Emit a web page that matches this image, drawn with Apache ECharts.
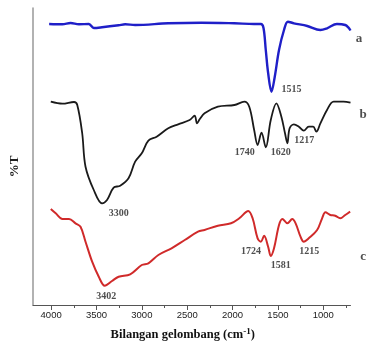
<!DOCTYPE html>
<html><head><meta charset="utf-8">
<script src="https://cdn.jsdelivr.net/npm/echarts@6/dist/echarts.min.js"></script>
<style>html,body{margin:0;padding:0;background:#fff}#c{width:367px;height:347px}</style>
</head><body><div id="c"></div>
<script>
// Curve a (blue)
const waveA = [4022,3876,3786,3694,3584,3530,3439,3256,3184,3074,2709,2345,1980,1765,1688,1659,1634,1608,1571,1535,1488,1433,1390,1324,1177,1032,959,849,758,722,700];
const tA    = [281,280.7,282,280.7,281,277,277.7,279.7,280.7,280,281.7,282.3,281.7,281,281,277,255,232,213.3,228.3,255,275,283.3,281.7,279,275,276.7,281,280,277.3,274.5];
// Curve b (black)
const waveB = [4004,3876,3748,3712,3658,3621,3530,3439,3384,3311,3239,3147,3074,3001,2928,2837,2709,2600,2473,2418,2392,2363,2309,2162,1980,1871,1816,1762,1724,1681,1634,1579,1517,1462,1422,1396,1371,1324,1269,1215,1160,1112,1076,1032,959,886,777,700];
const tB    = [203.3,201.3,203,200,172,138.3,115,101.7,105,117.3,119.3,126.7,143.3,151.7,164.3,168.3,176.7,180.7,185,189.3,181.7,185.7,191.7,198.3,200,203.3,198.3,175,160,172.3,157.7,185,201.7,188.3,171.7,161.7,176.7,180.7,178.3,174.3,178.3,178.3,173.3,181.7,195,203.3,203.3,202.3];
// Curve c (red)
const waveC = [4004,3950,3876,3803,3731,3676,3621,3548,3475,3409,3329,3256,3129,3001,2928,2818,2673,2527,2381,2309,2162,2017,1926,1827,1779,1724,1688,1652,1608,1579,1543,1488,1451,1396,1342,1305,1251,1215,1160,1068,1013,977,923,868,813,758,704];
const tC    = [96,91.7,86,86,81.7,78.3,63.3,43.3,28.3,19.3,24,28.3,30.7,40,41.7,50,56.7,65,73.3,75,79.3,81.7,86.7,94,86.7,66.7,63.3,69.3,58.3,49,56.7,80,86,81.7,86,81.7,68.3,63.3,66.7,75,86.7,92.7,90,89.3,86.7,90,93.3];
// Annotations
const labelText = ['1515','a','3300','1740','1620','1217','b','1724','1581','1215','c','3402'];
const labelWave = [1351,605,3256,1866,1470,1210,562,1798,1470,1154,562,3393];
const labelT    = [215.7,266.7,91.7,152.7,152.7,165,190,53.3,40,53.3,48.3,9];
// Axis ticks
const majorTicks = [1000,1500,2000,2500,3000,3500,4000];
const minorTicks = [750,1250,1750,2250,2750,3250,3750];

function pairs(w, t){ return w.map((x,i)=>[x,t[i]]); }
const labelData = labelText.map((s,i)=>[labelWave[i], labelT[i], s]);

const chart = echarts.init(document.getElementById('c'));
const serif = '"Liberation Serif","DejaVu Serif",serif';
chart.setOption({
  animation:false,
  backgroundColor:'#fff',
  grid:{left:31,right:16.5,top:8,bottom:42},
  xAxis:[{
    type:'value', min:700, max:4200, inverse:true, position:'bottom',
    axisLine:{show:true, lineStyle:{color:'#555', width:1}},
    axisTick:{show:true, inside:false, length:5, customValues:majorTicks, lineStyle:{color:'#555'}},
    axisLabel:{show:true, customValues:majorTicks, formatter:v=>String(v), color:'#222', fontSize:9.5, margin:5, fontFamily:'"Liberation Sans",Arial,sans-serif'},
    splitLine:{show:false},
    name:'{t|Bilangan gelombang (cm}{s|-1}{t|)}', nameLocation:'middle', nameGap:22,
    nameTextStyle:{padding:[0,18,0,0], rich:{t:{fontFamily:serif,fontWeight:'bold',fontSize:12.5,color:'#111'}, s:{fontFamily:serif,fontWeight:'bold',fontSize:9,color:'#111',verticalAlign:'bottom',padding:[0,0,6,0]}}}
  },{
    type:'value', min:700, max:4200, inverse:true, position:'bottom',
    axisLine:{show:false},
    axisTick:{show:true, inside:false, length:3, customValues:minorTicks, lineStyle:{color:'#555'}},
    axisLabel:{show:false}, splitLine:{show:false}
  }],
  yAxis:{
    type:'value', min:0, max:297,
    axisLine:{show:true, lineStyle:{color:'#999', width:1.5}},
    axisTick:{show:false}, axisLabel:{show:false}, splitLine:{show:false},
    name:'%T', nameLocation:'middle', nameGap:12, nameRotate:90,
    nameTextStyle:{fontFamily:serif, fontWeight:'bold', fontSize:13, color:'#222', padding:[0,20,0,0]}
  },
  series:[
    {type:'line', data:pairs(waveA,tA), showSymbol:false, smooth:0.35, lineStyle:{color:'#1f1fc8', width:2.4}},
    {type:'line', data:pairs(waveB,tB), showSymbol:false, smooth:0.35, lineStyle:{color:'#1a1a1a', width:1.8}},
    {type:'line', data:pairs(waveC,tC), showSymbol:false, smooth:0.35, lineStyle:{color:'#d02a2a', width:2}},
    {type:'scatter', data:labelData, symbolSize:0, clip:false, silent:true,
     label:{show:true, position:'inside',
       formatter:p=>p.data[2].length===1?'{L|'+p.data[2]+'}':p.data[2],
       rich:{L:{fontFamily:serif,fontWeight:'bold',fontSize:13,color:'#222'}},
       fontFamily:serif, fontWeight:'bold', color:'#222', fontSize:10}}
  ]
});
</script></body></html>
